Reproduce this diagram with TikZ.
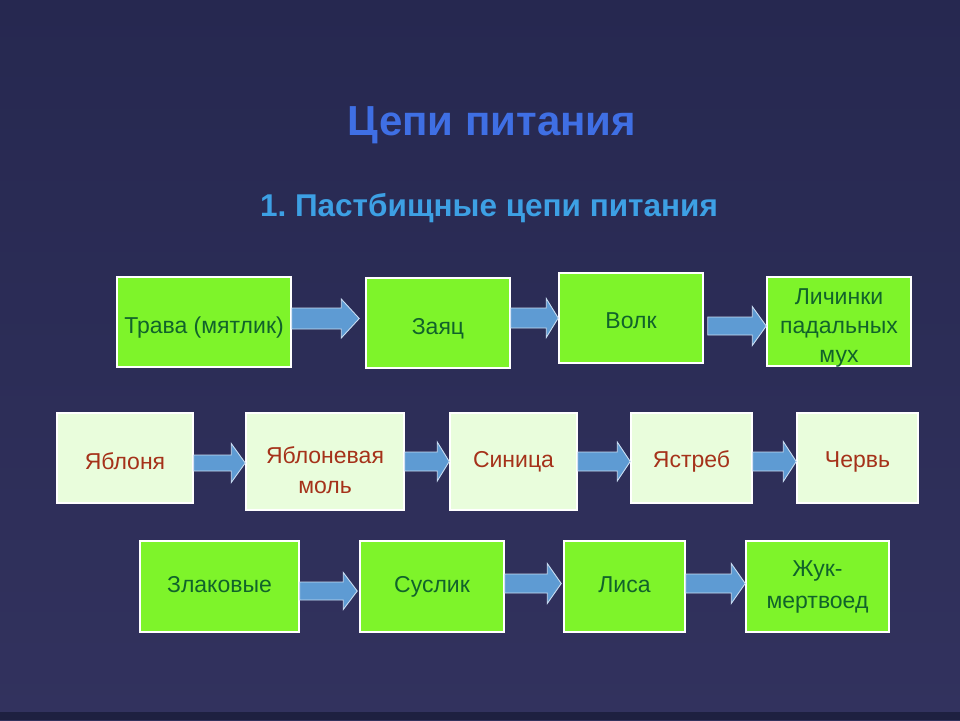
\documentclass[tikz,border=0pt]{standalone}
\usepackage{fontspec}
\setmainfont{Liberation Sans}
\usetikzlibrary{calc}
\definecolor{bgtop}{HTML}{262850}
\definecolor{bgbot}{HTML}{32325E}
\definecolor{titleblue}{HTML}{3F6FE4}
\definecolor{subblue}{HTML}{3DA0E4}
\definecolor{brightgreen}{HTML}{7EF42A}
\definecolor{palegreen}{HTML}{E9FDDC}
\definecolor{darkgreentext}{HTML}{11632A}
\definecolor{redtext}{HTML}{A5321A}
\definecolor{arrowblue}{HTML}{5E9BD3}
\definecolor{arrowedge}{HTML}{C9DDF2}
\newcommand\blockarr[8]{%
  \draw[arr] ($(#1.east |- 0,#3)+(#4,-#6)$) -- ($(#2.west |- 0,#3)+(-#5-#8,-#6)$)
    -- ($(#2.west |- 0,#3)+(-#5-#8,-#7)$) -- ($(#2.west |- 0,#3)+(-#5,0)$)
    -- ($(#2.west |- 0,#3)+(-#5-#8,#7)$) -- ($(#2.west |- 0,#3)+(-#5-#8,#6)$)
    -- ($(#1.east |- 0,#3)+(#4,#6)$) -- cycle;}
\begin{document}
\begin{tikzpicture}[x=1pt,y=-1pt,
  gbox/.style={draw=white, line width=1.5pt, fill=brightgreen, inner sep=0pt},
  pbox/.style={draw=white, line width=1.5pt, fill=palegreen, inner sep=0pt},
  gtxt/.style={text=darkgreentext, inner sep=0pt, anchor=base, font=\fontsize{23}{29}\selectfont},
  rtxt/.style={text=redtext, inner sep=0pt, anchor=base, font=\fontsize{23}{29}\selectfont},
  arr/.style={fill=arrowblue, draw=arrowedge, line width=0.9pt, line join=miter},
  sz/.style 2 args={minimum width=#1pt, minimum height=#2pt}]
\shade[top color=bgtop, bottom color=bgbot] (0,0) rectangle (960,720);
\fill[bgtop!80!black] (0,712) rectangle (960,720);
\useasboundingbox (0,0) rectangle (960,720);

\node[font=\fontsize{42}{46}\selectfont\bfseries, text=titleblue, anchor=base] (title) at (492,135) {Цепи питания};
\node[font=\fontsize{31.5}{34}\selectfont\bfseries, text=subblue, anchor=base] (sub) at (489,216) {1.\ Пастбищные цепи питания};

% row 1
\node[gbox, sz={174}{90}] (trava) at (204,322) {};
\node[gtxt] (travat) at ($(trava.center)+(0,11)$) {Трава (мятлик)};
\node[gbox, sz={144}{90}] (zayac) at (438,323) {};
\node[gtxt] (zayact) at ($(zayac.center)+(0,11)$) {Заяц};
\node[gbox, sz={144}{90}] (volk) at (631,318) {};
\node[gtxt] (volkt) at ($(volk.center)+(0,10)$) {Волк};
\node[gbox, sz={144}{89}] (lich) at (839,321.5) {};
\node[gtxt] (licht1) at ($(lich.center)+(0,-17.5)$) {Личинки};
\node[gtxt] (licht2) at ($(lich.center)+(0,11.5)$) {падальных};
\node[gtxt] (licht3) at ($(lich.center)+(0,40.5)$) {мух};

% row 2
\node[pbox, sz={136}{90}] (yabl) at (125,458) {};
\node[rtxt] (yablt) at ($(yabl.center)+(0,11)$) {Яблоня};
\node[pbox, sz={158}{97}] (mol) at (325,461.5) {};
\node[rtxt] (molt1) at ($(mol.center)+(0,1.5)$) {Яблоневая};
\node[rtxt] (molt2) at ($(mol.center)+(0,31.5)$) {моль};
\node[pbox, sz={127}{97}] (sin) at (513.5,461.5) {};
\node[rtxt] (sint) at ($(sin.center)+(0,5.5)$) {Синица};
\node[pbox, sz={121}{90}] (yast) at (691.5,458) {};
\node[rtxt] (yastt) at ($(yast.center)+(0,9)$) {Ястреб};
\node[pbox, sz={121}{90}] (cherv) at (857.5,458) {};
\node[rtxt] (chervt) at ($(cherv.center)+(0,9)$) {Червь};

% row 3
\node[gbox, sz={159}{91}] (zlak) at (219.5,586.5) {};
\node[gtxt] (zlakt) at ($(zlak.center)+(0,6)$) {Злаковые};
\node[gbox, sz={144}{91}] (susl) at (432,586.5) {};
\node[gtxt] (suslt) at ($(susl.center)+(0,6)$) {Суслик};
\node[gbox, sz={121}{91}] (lisa) at (624.5,586.5) {};
\node[gtxt] (lisat) at ($(lisa.center)+(0,6)$) {Лиса};
\node[gbox, sz={143}{91}] (zhuk) at (817.5,586.5) {};
\node[gtxt] (zhukt1) at ($(zhuk.center)+(0,-10)$) {Жук-};
\node[gtxt] (zhukt2) at ($(zhuk.center)+(0,22)$) {мертвоед};

% arrows row 1
\blockarr{trava}{zayac}{318.5}{0}{6}{10.5}{19.5}{18}
\blockarr{zayac}{volk}{318}{0}{0}{10}{19.5}{12}
\blockarr{volk}{lich}{326}{4}{0}{9}{19.5}{14}
% arrows row 2
\blockarr{yabl}{mol}{463}{0}{0}{8}{19.5}{14}
\blockarr{mol}{sin}{461.5}{0}{0}{9.5}{19.5}{12}
\blockarr{sin}{yast}{461.5}{0}{0}{9.5}{19.5}{13}
\blockarr{yast}{cherv}{461.5}{0}{0}{9.5}{20}{13}
% arrows row 3
\blockarr{zlak}{susl}{591}{0}{2}{9}{18.5}{14}
\blockarr{susl}{lisa}{583.5}{0}{2}{9.5}{20}{14}
\blockarr{lisa}{zhuk}{583.5}{0}{0}{9.5}{20}{14}
\end{tikzpicture}
\end{document}
